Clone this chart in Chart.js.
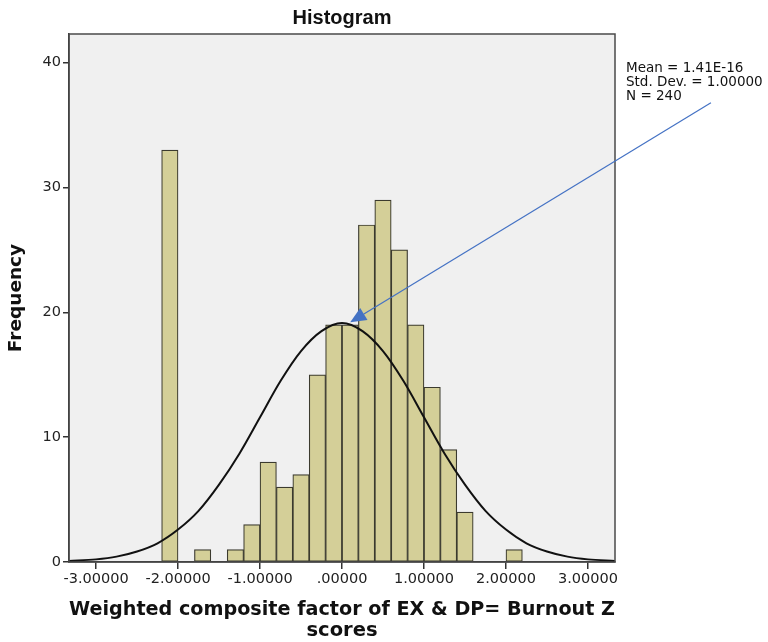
<!DOCTYPE html>
<html lang="en">
<head>
  <meta charset="UTF-8" />
  <title>Histogram</title>
  <script src="https://cdn.jsdelivr.net/npm/chart.js"></script>
  <style>
    * { box-sizing: border-box; }
    body { margin: 0; background: #ffffff; }
    #wrap { width: 768px; height: 642px; }
  </style>
</head>
<body>
  <div id="wrap"><canvas id="hist" width="768" height="642"></canvas></div>

<script>
  // histogram bins (centres, width 0.2) and frequencies
  const binCenters = [-2.1, -1.9, -1.7, -1.5, -1.3, -1.1, -0.9, -0.7, -0.5, -0.3, -0.1,
                      0.1, 0.3, 0.5, 0.7, 0.9, 1.1, 1.3, 1.5, 1.7, 1.9, 2.1];
  const counts = [33, 0, 1, 0, 1, 3, 8, 6, 7, 15, 19,
                  19, 27, 29, 25, 19, 14, 9, 4, 0, 0, 1];

  // normal curve
  const curveX = [-3.33, -3, -2.75, -2.5, -2.25, -2, -1.75, -1.5, -1.25, -1, -0.75, -0.5, -0.25, 0,
                  0.25, 0.5, 0.75, 1, 1.25, 1.5, 1.75, 2, 2.25, 2.5, 2.75, 3, 3.33];
  const curveY = [0.08, 0.21, 0.43, 0.84, 1.5, 2.6, 4.1, 6.2, 8.7, 11.6, 14.5, 16.9, 18.5, 19.15,
                  18.5, 16.9, 14.5, 11.6, 8.7, 6.2, 4.1, 2.6, 1.5, 0.84, 0.43, 0.21, 0.08];

  const xTicks = [-3, -2, -1, 0, 1, 2, 3];
  const yTicks = [0, 10, 20, 30, 40];

  const statsLines = ['Mean = 1.41E-16', 'Std. Dev. = 1.00000', 'N = 240'];

  const fmtX = v => v === 0 ? '.00000' : v.toFixed(5);

  // background, frame, title, stats box and the blue arrow
  const decor = {
    id: 'decor',
    beforeDraw(chart) {
      const { ctx, chartArea: a } = chart;
      ctx.save();
      ctx.fillStyle = '#f0f0f0';
      ctx.fillRect(a.left, a.top, a.right - a.left, a.bottom - a.top);
      ctx.restore();
    },
    afterDraw(chart) {
      const { ctx, chartArea: a, scales } = chart;
      ctx.save();
      ctx.strokeStyle = '#4a4a4a';
      ctx.lineWidth = 1.5;
      ctx.strokeRect(a.left, a.top, a.right - a.left, a.bottom - a.top);

      ctx.fillStyle = '#111';
      ctx.font = 'bold 20px "Liberation Sans", sans-serif';
      ctx.textAlign = 'center';
      ctx.textBaseline = 'middle';
      ctx.fillText('Histogram', (a.left + a.right) / 2, 18);

      ctx.font = '13.5px "DejaVu Sans", sans-serif';
      ctx.textAlign = 'left';
      ctx.fillStyle = '#111';
      statsLines.forEach((t, i) => ctx.fillText(t, a.right + 11, 68 + i * 14));

      // arrow pointing at the curve peak
      const x0 = scales.x.getPixelForValue(4.5), y0 = scales.y.getPixelForValue(36.8);
      const x1 = scales.x.getPixelForValue(0.1), y1 = scales.y.getPixelForValue(19.2);
      const ang = Math.atan2(y1 - y0, x1 - x0);
      const hl = 16, hw = 7;
      const bx = x1 - hl * Math.cos(ang), by = y1 - hl * Math.sin(ang);
      ctx.strokeStyle = '#4472c4';
      ctx.fillStyle = '#4472c4';
      ctx.lineWidth = 1.2;
      ctx.beginPath();
      ctx.moveTo(x0, y0);
      ctx.lineTo(bx, by);
      ctx.stroke();
      ctx.beginPath();
      ctx.moveTo(x1, y1);
      ctx.lineTo(bx + hw * Math.sin(ang), by - hw * Math.cos(ang));
      ctx.lineTo(bx - hw * Math.sin(ang), by + hw * Math.cos(ang));
      ctx.closePath();
      ctx.fill();
      ctx.restore();
    }
  };

  new Chart(document.getElementById('hist').getContext('2d'), {
    type: 'bar',
    data: {
      datasets: [
        {
          type: 'line',
          data: curveX.map((x, i) => ({ x, y: curveY[i] })),
          borderColor: '#111',
          borderWidth: 2,
          pointRadius: 0,
          cubicInterpolationMode: 'monotone',
          fill: false,
          order: 0
        },
        {
          data: binCenters.map((x, i) => ({ x, y: counts[i] })),
          backgroundColor: '#d4cf98',
          borderColor: '#3b3a2e',
          borderWidth: 1.2,
          borderSkipped: false,
          barPercentage: 1,
          categoryPercentage: 1,
          grouped: false,
          order: 1
        }
      ]
    },
    options: {
      responsive: false,
      animation: false,
      layout: { padding: { top: 34, right: 153, left: 0, bottom: 0 } },
      plugins: { legend: { display: false }, tooltip: { enabled: false } },
      scales: {
        x: {
          type: 'linear',
          min: -3.33,
          max: 3.33,
          offset: false,
          afterBuildTicks: s => { s.ticks = xTicks.map(v => ({ value: v })); },
          afterFit: s => { s.height = 80; },
          ticks: {
            callback: v => fmtX(v),
            color: '#222',
            font: { family: '"DejaVu Sans", sans-serif', size: 14.5 },
            padding: 2,
            maxRotation: 0,
            autoSkip: false
          },
          grid: { offset: false, drawOnChartArea: false, drawTicks: true, tickLength: 7, color: '#333', lineWidth: 1.5 },
          border: { display: true, color: '#333', width: 1.5 },
          title: {
            display: true,
            text: ['Weighted composite factor of EX & DP= Burnout Z', 'scores'],
            color: '#111',
            font: { family: '"DejaVu Sans", sans-serif', size: 19.5, weight: 'bold', lineHeight: 1.1 },
            padding: { top: 2, bottom: 0 }
          }
        },
        y: {
          min: 0,
          max: 42.3,
          afterBuildTicks: s => { s.ticks = yTicks.map(v => ({ value: v })); },
          afterFit: s => { s.width = 69; },
          ticks: {
            color: '#222',
            font: { family: '"DejaVu Sans", sans-serif', size: 14.5 },
            padding: 2
          },
          grid: { drawOnChartArea: false, drawTicks: true, tickLength: 6, color: '#333', lineWidth: 1.5 },
          border: { display: true, color: '#333', width: 1.5 },
          title: {
            display: true,
            text: 'Frequency',
            color: '#111',
            font: { family: '"DejaVu Sans", sans-serif', size: 18.5, weight: 'bold' },
            padding: { top: 5, bottom: 0 }
          }
        }
      }
    },
    plugins: [decor]
  });
</script>
</body>
</html>
